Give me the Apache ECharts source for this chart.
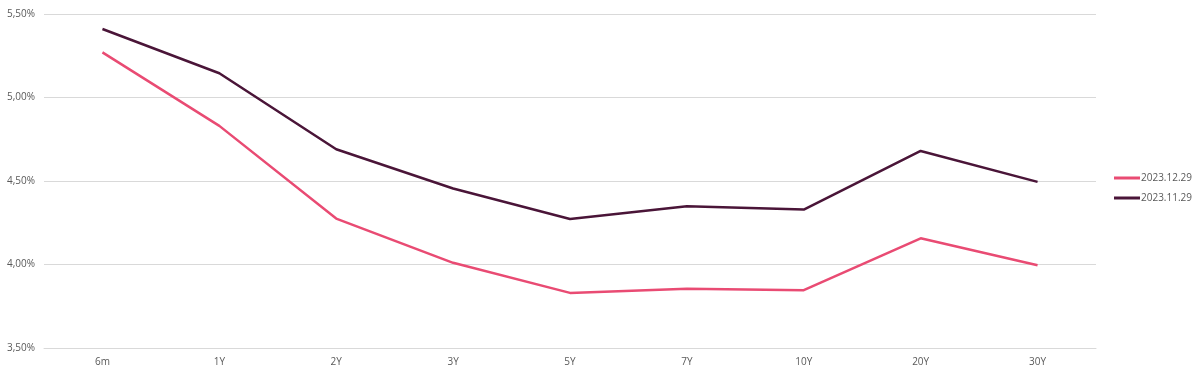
<!DOCTYPE html>
<html><head><meta charset="utf-8">
<script src="https://cdn.jsdelivr.net/npm/echarts@6/dist/echarts.min.js"></script>
<style>html,body{margin:0;padding:0;background:#fff}#c{width:1200px;height:375px}</style>
</head><body><div id="c"></div>
<script>
const categories = ['6m','1Y','2Y','3Y','5Y','7Y','10Y','20Y','30Y'];
const seriesDec = [5.27,4.83,4.275,4.01,3.83,3.855,3.846,4.157,3.995];
const seriesNov = [5.41,5.145,4.69,4.455,4.272,4.349,4.329,4.68,4.495];
const seriesNames = ['2023.12.29','2023.11.29'];
const colors = ['#E94B73','#4A1538'];

const chart = echarts.init(document.getElementById('c'));
chart.setOption({
  animation:false,
  textStyle:{fontFamily:'Open Sans'},
  grid:{left:44,right:104,top:14,bottom:27},
  legend:{
    orient:'vertical', left:1109, top:168, itemGap:10,
    itemWidth:26, itemHeight:3, icon:'rect',
    textStyle:{color:'#595959',fontSize:10,padding:[0,0,0,-4]},
    data:seriesNames
  },
  xAxis:{type:'category',data:categories,boundaryGap:true,
    axisLine:{show:true,lineStyle:{color:'#d9d9d9'}},axisTick:{show:false},
    axisLabel:{color:'#595959',fontSize:10,margin:9}},
  yAxis:{type:'value',min:3.5,max:5.5,interval:0.5,
    axisLine:{show:false},axisTick:{show:false},
    splitLine:{lineStyle:{color:'#d9d9d9'}},
    axisLabel:{color:'#595959',fontSize:10,margin:9,
      formatter:v=>v.toFixed(2).replace('.',',')+'%'}},
  series:[
    {name:seriesNames[0],type:'line',data:seriesDec,symbol:'none',
     lineStyle:{width:2.5,color:colors[0]},itemStyle:{color:colors[0]}},
    {name:seriesNames[1],type:'line',data:seriesNov,symbol:'none',
     lineStyle:{width:2.5,color:colors[1]},itemStyle:{color:colors[1]}}
  ]
});
</script></body></html>
